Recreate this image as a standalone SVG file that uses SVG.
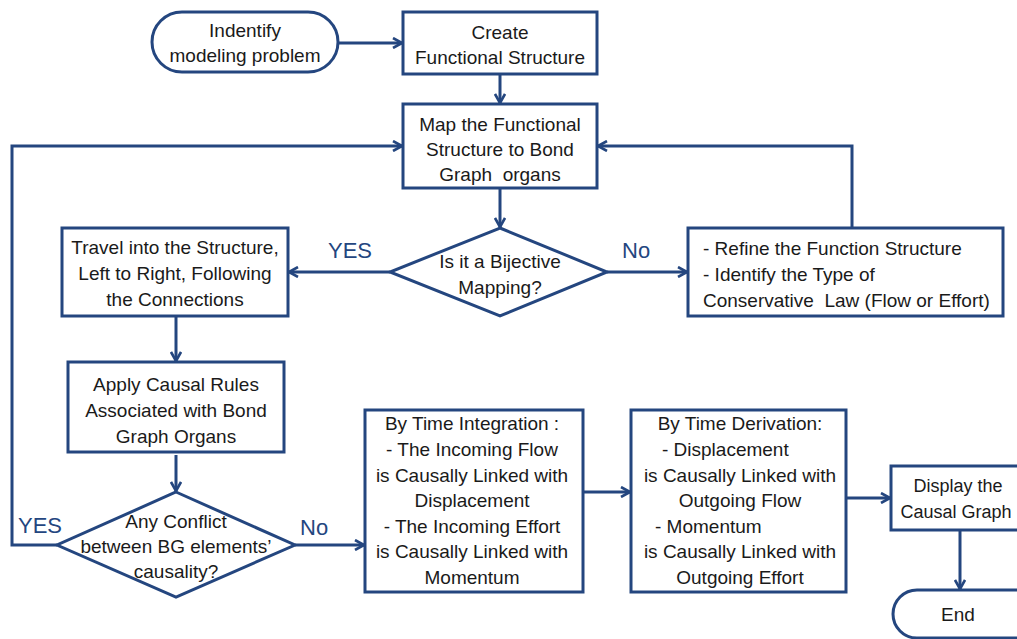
<svg xmlns="http://www.w3.org/2000/svg" width="1017" height="639" viewBox="0 0 1017 639">
<defs>
<style>
.b{fill:#fff;stroke:#24467f;stroke-width:3}
.t{font-family:"Liberation Sans",Arial,sans-serif;font-size:19px;fill:#1a1a1a;text-anchor:middle;white-space:pre}
.l{text-anchor:start}
.c{fill:none;stroke:#24467f;stroke-width:3}
.y{font-family:"Liberation Sans",Arial,sans-serif;font-size:22px;fill:#24467f}
</style>
<marker id="a" viewBox="0 0 12 12" refX="11" refY="6" markerWidth="12" markerHeight="12" markerUnits="userSpaceOnUse" orient="auto">
<path d="M2,1 L11,6 L2,11" fill="none" stroke="#24467f" stroke-width="2.6"/>
</marker>
</defs>
<rect width="1017" height="639" fill="#fff"/>
<g id="connectors">
<path class="c" d="M338,43 H402" marker-end="url(#a)"/>
<path class="c" d="M500,74 V103" marker-end="url(#a)"/>
<path class="c" d="M500,188 V227" marker-end="url(#a)"/>
<path class="c" d="M390,272 H289" marker-end="url(#a)"/>
<path class="c" d="M607,272 H687" marker-end="url(#a)"/>
<path class="c" d="M852,228 V146 H598" marker-end="url(#a)"/>
<path class="c" d="M57,545 H12 V146 H402" marker-end="url(#a)"/>
<path class="c" d="M176,316 V361" marker-end="url(#a)"/>
<path class="c" d="M176,455 V491" marker-end="url(#a)"/>
<path class="c" d="M295,545 H364" marker-end="url(#a)"/>
<path class="c" d="M583,492 H630" marker-end="url(#a)"/>
<path class="c" d="M846,498 H890" marker-end="url(#a)"/>
<path class="c" d="M960,530 V589" marker-end="url(#a)"/>
<text class="y" x="328" y="258">YES</text>
<text class="y" x="622" y="258">No</text>
<text class="y" x="18" y="533">YES</text>
<text class="y" x="300" y="535">No</text>
</g>
<g id="start">
<rect class="b" x="152" y="12" width="186" height="60" rx="30"/>
<text class="t" x="245" y="37">Indentify</text>
<text class="t" x="245" y="62">modeling problem</text>
</g>
<g id="create">
<rect class="b" x="403" y="12" width="194" height="62"/>
<text class="t" x="500" y="39">Create</text>
<text class="t" x="500" y="64">Functional Structure</text>
</g>
<g id="map">
<rect class="b" x="403" y="104" width="194" height="84"/>
<text class="t" x="500" y="131">Map the Functional</text>
<text class="t" x="500" y="156">Structure to Bond</text>
<text class="t" x="500" y="181">Graph  organs</text>
</g>
<g id="bijective">
<path class="b" d="M500,228 L607,272 L500,316 L390,272 Z"/>
<text class="t" x="500" y="268">Is it a Bijective</text>
<text class="t" x="500" y="294">Mapping?</text>
</g>
<g id="refine">
<rect class="b" x="688" y="228" width="315" height="88"/>
<text class="t l" x="703" y="255">- Refine the Function Structure</text>
<text class="t l" x="703" y="281">- Identify the Type of</text>
<text class="t l" x="703" y="307">Conservative  Law (Flow or Effort)</text>
</g>
<g id="travel">
<rect class="b" x="62" y="228" width="226" height="88"/>
<text class="t" x="175" y="254">Travel into the Structure,</text>
<text class="t" x="175" y="280">Left to Right, Following</text>
<text class="t" x="175" y="306">the Connections</text>
</g>
<g id="apply">
<rect class="b" x="68" y="362" width="216" height="90"/>
<text class="t" x="176" y="391">Apply Causal Rules</text>
<text class="t" x="176" y="417">Associated with Bond</text>
<text class="t" x="176" y="443">Graph Organs</text>
</g>
<g id="conflict">
<path class="b" d="M176,492 L295,545 L176,597 L57,545 Z"/>
<text class="t" x="176" y="528">Any Conflict</text>
<text class="t" x="176" y="553">between BG elements’</text>
<text class="t" x="176" y="578">causality?</text>
</g>
<g id="integration">
<rect class="b" x="365" y="410" width="218" height="182"/>
<text class="t" x="472" y="430">By Time Integration :</text>
<text class="t" x="472" y="456">- The Incoming Flow</text>
<text class="t" x="472" y="482">is Causally Linked with</text>
<text class="t" x="472" y="507">Displacement</text>
<text class="t" x="472" y="533">- The Incoming Effort</text>
<text class="t" x="472" y="558">is Causally Linked with</text>
<text class="t" x="472" y="584">Momentum</text>
</g>
<g id="derivation">
<rect class="b" x="631" y="410" width="215" height="182"/>
<text class="t" x="740" y="430">By Time Derivation:</text>
<text class="t l" x="662" y="456">- Displacement</text>
<text class="t" x="740" y="482">is Causally Linked with</text>
<text class="t" x="740" y="507">Outgoing Flow</text>
<text class="t l" x="655" y="533">- Momentum</text>
<text class="t" x="740" y="558">is Causally Linked with</text>
<text class="t" x="740" y="584">Outgoing Effort</text>
</g>
<g id="display">
<rect class="b" x="891" y="466" width="140" height="64"/>
<text class="t" x="958" y="492" style="font-size:18px">Display the</text>
<text class="t" x="956" y="518" style="font-size:18px">Causal Graph</text>
</g>
<g id="end">
<rect class="b" x="893" y="590" width="150" height="48" rx="24"/>
<text class="t" x="958" y="621">End</text>
</g>
</svg>
